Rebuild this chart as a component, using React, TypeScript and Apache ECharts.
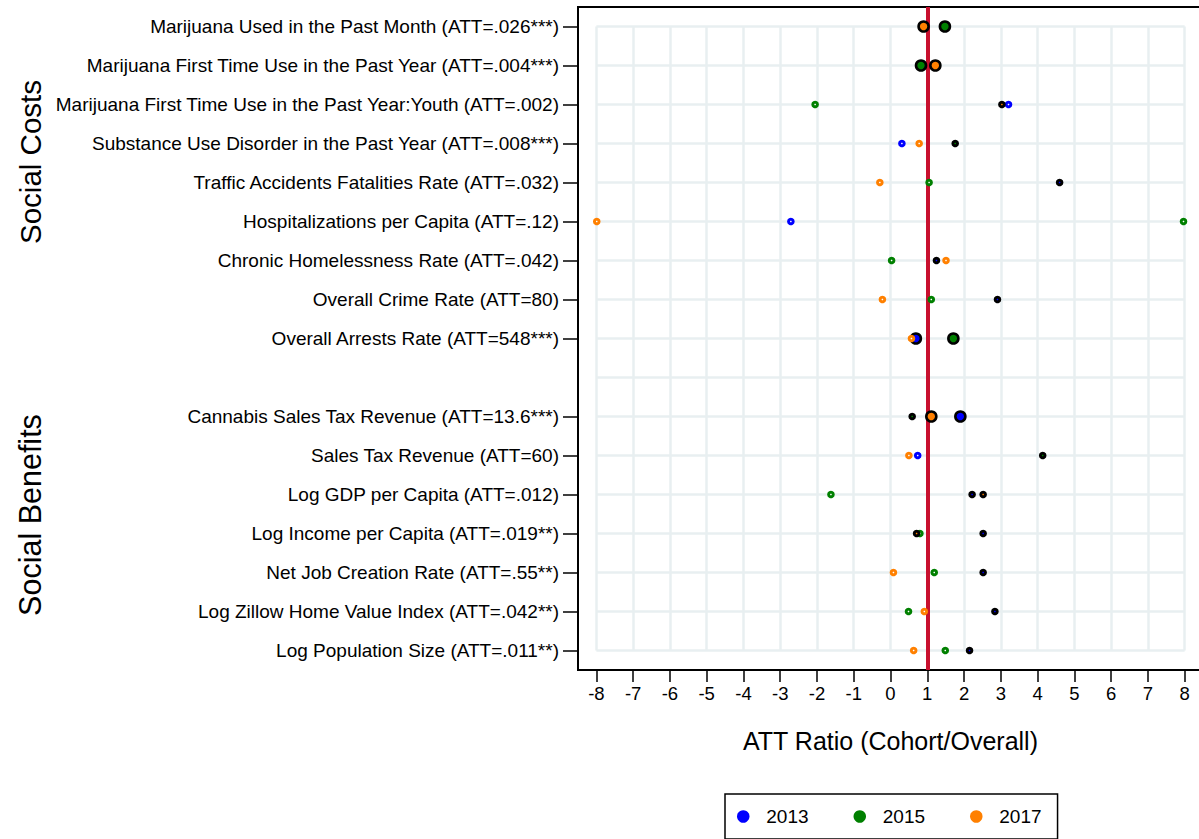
import React, { useEffect, useRef } from "react";
import * as echarts from "echarts";

const categories = [
  "Marijuana Used in the Past Month (ATT=.026***)",
  "Marijuana First Time Use in the Past Year (ATT=.004***)",
  "Marijuana First Time Use in the Past Year:Youth (ATT=.002)",
  "Substance Use Disorder in the Past Year (ATT=.008***)",
  "Traffic Accidents Fatalities Rate (ATT=.032)",
  "Hospitalizations per Capita (ATT=.12)",
  "Chronic Homelessness Rate (ATT=.042)",
  "Overall Crime Rate (ATT=80)",
  "Overall Arrests Rate (ATT=548***)",
  "",
  "Cannabis Sales Tax Revenue (ATT=13.6***)",
  "Sales Tax Revenue (ATT=60)",
  "Log GDP per Capita (ATT=.012)",
  "Log Income per Capita (ATT=.019**)",
  "Net Job Creation Rate (ATT=.55**)",
  "Log Zillow Home Value Index (ATT=.042**)",
  "Log Population Size (ATT=.011**)",
];

const xTicks = [-8, -7, -6, -5, -4, -3, -2, -1, 0, 1, 2, 3, 4, 5, 6, 7, 8];

const years = ["2013", "2015", "2017"];

// ATT ratio per row (null = not shown)
const ratio2013 = [null, null, 3.21, 0.31, 4.6, -2.71, 1.25, 2.91, 0.69, null, 1.9, 0.74, 2.22, 2.52, 2.52, 2.84, 2.15];
const ratio2015 = [1.48, 0.83, -2.05, 1.76, 1.05, 7.97, 0.03, 1.11, 1.71, null, 0.59, 4.14, -1.62, 0.8, 1.19, 0.49, 1.49];
const ratio2017 = [0.9, 1.22, 3.03, 0.78, -0.29, -7.99, 1.51, -0.22, 0.57, null, 1.11, 0.5, 2.52, 0.71, 0.08, 0.92, 0.63];

// marker kind: 0 plain, 1 black-outlined small, 2 large outlined
const kind2013 = [0, 0, 0, 0, 1, 0, 1, 1, 2, 0, 2, 0, 1, 1, 1, 1, 1];
const kind2015 = [2, 2, 0, 1, 0, 0, 0, 0, 2, 0, 1, 1, 0, 0, 0, 0, 0];
const kind2017 = [2, 2, 1, 0, 0, 0, 0, 0, 0, 0, 2, 0, 1, 1, 0, 0, 0];

const refLine = 1;

const FONT = "'Liberation Sans', Arial, Helvetica, sans-serif";
const COLORS = ["#0000ff", "#008000", "#ff8000"];

function buildData(vals: (number | null)[], kinds: number[], color: string) {
  const out: any[] = [];
  vals.forEach((v, i) => {
    if (v === null) return;
    const k = kinds[i];
    if (k === 0) {
      out.push({ value: [v, i], symbolSize: 4.6, itemStyle: { color: "#ffffff", borderColor: color, borderWidth: 3, opacity: 1 } });
    } else if (k === 1) {
      out.push({ value: [v, i], symbolSize: 4.6, itemStyle: { color, borderColor: "#000000", borderWidth: 3, opacity: 1 } });
    } else {
      out.push({ value: [v, i], symbolSize: 10, itemStyle: { color, borderColor: "#000000", borderWidth: 2.6, opacity: 1 } });
    }
  });
  return out;
}

export default function App() {
  const ref = useRef<HTMLDivElement>(null);
  useEffect(() => {
    if (!ref.current) return;
    const chart = echarts.init(ref.current, null, { renderer: "svg" });
    const ratios = [ratio2013, ratio2015, ratio2017];
    const kinds = [kind2013, kind2015, kind2017];
    const lastIdx = categories.length - 1;
    const gridLines: any[] = [];
    xTicks.forEach((v) => gridLines.push([{ coord: [v, 0] }, { coord: [v, lastIdx] }]));
    categories.forEach((_c, i) =>
      gridLines.push([{ coord: [xTicks[0], i] }, { coord: [xTicks[xTicks.length - 1], i] }])
    );

    const option: any = {
      animation: false,
      backgroundColor: "#ffffff",
      textStyle: { fontFamily: FONT },
      grid: {
        left: 578, top: 7, width: 625, height: 663,
        show: true, borderColor: "#000", borderWidth: 2, backgroundColor: "transparent",
        outerBoundsMode: "none", containLabel: false,
      },
      xAxis: {
        type: "value",
        min: -8.5,
        max: 8.5,
        name: "ATT Ratio (Cohort/Overall)",
        nameLocation: "middle",
        nameGap: 58,
        nameTextStyle: { fontSize: 25, color: "#000", fontFamily: FONT },
        axisLine: { show: true, onZero: false, lineStyle: { color: "#000", width: 2 } },
        axisTick: { show: true, length: 12, customValues: xTicks, lineStyle: { color: "#000", width: 1.5 } },
        axisLabel: { customValues: xTicks, fontSize: 18.5, color: "#000", margin: 14, fontFamily: FONT, formatter: (v: number) => String(v) },
        splitLine: { show: false },
      },
      yAxis: {
        type: "category",
        data: categories,
        inverse: true,
        boundaryGap: true,
        axisLine: { show: true, onZero: false, lineStyle: { color: "#000", width: 2 } },
        axisTick: {
          show: true,
          length: 15,
          alignWithLabel: true,
          interval: (_i: number, val: string) => val !== "",
          lineStyle: { color: "#000", width: 1.5 },
        },
        axisLabel: { fontSize: 19, color: "#000", margin: 19, fontFamily: FONT, interval: 0 },
        splitLine: { show: false },
      },
      legend: {
        left: 725,
        top: 794,
        orient: "horizontal",
        padding: [13, 16, 13, 12],
        borderColor: "#000",
        borderWidth: 1.5,
        itemWidth: 36,
        itemHeight: 12.5,
        itemGap: 45,
        icon: "circle",
        textStyle: { fontSize: 19, color: "#000", fontFamily: FONT },
        data: years.map((y, i) => ({ name: y, itemStyle: { color: COLORS[i], borderWidth: 0, opacity: 1 } })),
      },
      graphic: [
        { type: "text", x: 30, y: 162, rotation: Math.PI / 2, style: { text: "Social Costs", fontSize: 29.5, fill: "#000", fontFamily: FONT, align: "center", verticalAlign: "middle" } },
        { type: "text", x: 30, y: 515, rotation: Math.PI / 2, style: { text: "Social Benefits", fontSize: 30.5, fill: "#000", fontFamily: FONT, align: "center", verticalAlign: "middle" } },
      ],
      series: [
        {
          type: "scatter",
          name: "gridlines",
          data: [],
          z: 1,
          silent: true,
          markLine: {
            z: 1,
            silent: true,
            symbol: "none",
            label: { show: false },
            lineStyle: { color: "#e8eff1", width: 2.5, type: "solid" },
            emphasis: { disabled: true },
            data: gridLines,
          },
        },
        {
          type: "scatter",
          name: "ref",
          data: [],
          z: 2,
          silent: true,
          markLine: {
            z: 2,
            silent: true,
            symbol: "none",
            label: { show: false },
            lineStyle: { color: "#c8102e", width: 4, type: "solid" },
            emphasis: { disabled: true },
            data: [{ xAxis: refLine }],
          },
        },
        ...years.map((y, i) => ({
          type: "scatter",
          name: y,
          z: 10 + i,
          itemStyle: { color: COLORS[i], opacity: 1 },
          data: buildData(ratios[i], kinds[i], COLORS[i]),
        })),
      ],
    };
    chart.setOption(option);
    return () => chart.dispose();
  }, []);
  return <div ref={ref} style={{ position: "absolute", left: 0, top: 0, width: 1199, height: 839 }} />;
}
